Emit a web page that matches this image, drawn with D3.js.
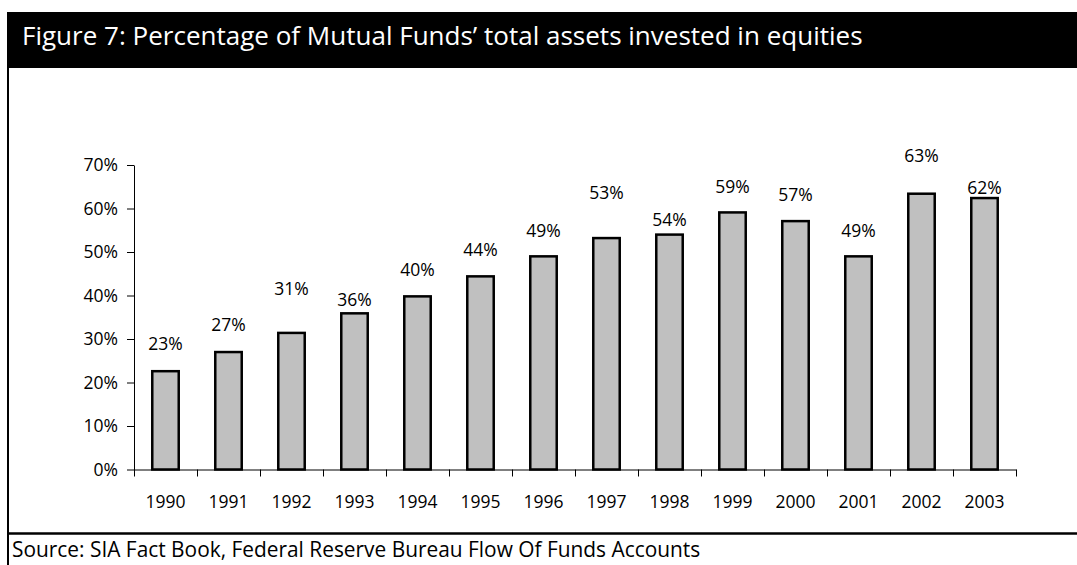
<!DOCTYPE html>
<html>
<head>
  <meta charset="UTF-8">
  <title>Figure 7</title>
  <script src="https://cdn.jsdelivr.net/npm/d3@7"></script>
  <style>
    html, body { margin: 0; padding: 0; background: #fff; overflow: hidden; }
    svg { display: block; }
    text { font-family: "Open Sans", sans-serif; fill: #000; }
  </style>
</head>
<body>
<svg id="chart" width="1077" height="565"></svg>

<script type="text/javascript">

// data
var years = ['1990','1991','1992','1993','1994','1995','1996','1997','1998','1999','2000','2001','2002','2003'];
var equityShare = [22.6, 27.0, 31.4, 35.9, 39.8, 44.4, 49.0, 53.2, 54.0, 59.1, 57.1, 49.0, 63.4, 62.4];
var yTicks = [0, 10, 20, 30, 40, 50, 60, 70];

var titleText = 'Figure 7: Percentage of Mutual Funds\u2019 total assets invested in equities';
var sourceText = 'Source: SIA Fact Book, Federal Reserve Bureau Flow Of Funds Accounts';

// label lift above bar top (px), the original labels are staggered
var labelLift = [27, 27, 44, 13, 26, 26, 25, 45, 15, 26, 26, 25, 38, 10];

var svg = d3.select('#chart');

// frame: header band, left rule, bottom rule
svg.append('rect')
  .attr('x', 7).attr('y', 12)
  .attr('width', 1070).attr('height', 56)
  .attr('fill', '#000');

svg.append('line')
  .attr('x1', 8).attr('x2', 8)
  .attr('y1', 68).attr('y2', 565)
  .attr('stroke', '#000').attr('stroke-width', 2);

svg.append('line')
  .attr('x1', 7).attr('x2', 1077)
  .attr('y1', 533.5).attr('y2', 533.5)
  .attr('stroke', '#000').attr('stroke-width', 2.5);

function fitText(sel, width) {
  var w = sel.node().getComputedTextLength();
  var fs = parseFloat(sel.style('font-size'));
  sel.style('font-size', (fs * width / w) + 'px');
}

var title = svg.append('text')
  .attr('x', 22).attr('y', 45)
  .style('font-size', '22px')
  .style('fill', '#fff')
  .text(titleText);
fitText(title, 841);

var source = svg.append('text')
  .attr('x', 12).attr('y', 557)
  .style('font-size', '19px')
  .text(sourceText);
fitText(source, 689);

// scales
var x = d3.scaleBand()
  .domain(years)
  .range([134, 1016])
  .paddingInner(0.58)
  .paddingOuter(0.29);

var y = d3.scaleLinear()
  .domain([0, 70])
  .range([469.5, 165]);

var edges = d3.scaleLinear()
  .domain([0, years.length])
  .range([134, 1016]);

// y axis
var yAxis = svg.append('g')
  .attr('transform', 'translate(134,0)')
  .call(d3.axisLeft(y)
    .tickValues(yTicks)
    .tickSize(7)
    .tickSizeOuter(0)
    .tickPadding(9)
    .tickFormat(function(d){ return d + '%'; }));

// x axis: boundary ticks plus centred year labels
var xTicks = svg.append('g')
  .attr('transform', 'translate(0,469.5)')
  .call(d3.axisBottom(edges)
    .tickValues(d3.range(years.length + 1))
    .tickSize(7)
    .tickSizeOuter(0)
    .tickFormat(''));

var xLabels = svg.append('g')
  .attr('transform', 'translate(0,469.5)')
  .call(d3.axisBottom(x).tickSize(0).tickPadding(26));
xLabels.select('.domain').remove();

svg.selectAll('.tick text')
  .style('font-family', '"Open Sans", sans-serif')
  .style('font-size', '17.5px')
  .style('fill', '#000');
svg.selectAll('.domain, .tick line').attr('stroke', '#000');

// bars
svg.append('g').selectAll('rect')
  .data(equityShare)
  .join('rect')
  .attr('x', function(d, i){ return x(years[i]); })
  .attr('y', function(d){ return y(d); })
  .attr('width', x.bandwidth())
  .attr('height', function(d){ return y(0) - y(d); })
  .attr('fill', '#c0c0c0')
  .attr('stroke', '#000')
  .attr('stroke-width', 2.5);

// value labels
svg.append('g').selectAll('text')
  .data(equityShare)
  .join('text')
  .attr('x', function(d, i){ return x(years[i]) + x.bandwidth() / 2; })
  .attr('y', function(d, i){ return y(d) - labelLift[i]; })
  .attr('dy', '0.35em')
  .attr('text-anchor', 'middle')
  .style('font-size', '17.5px')
  .text(function(d){ return Math.round(d) + '%'; });

</script>
</body>
</html>
